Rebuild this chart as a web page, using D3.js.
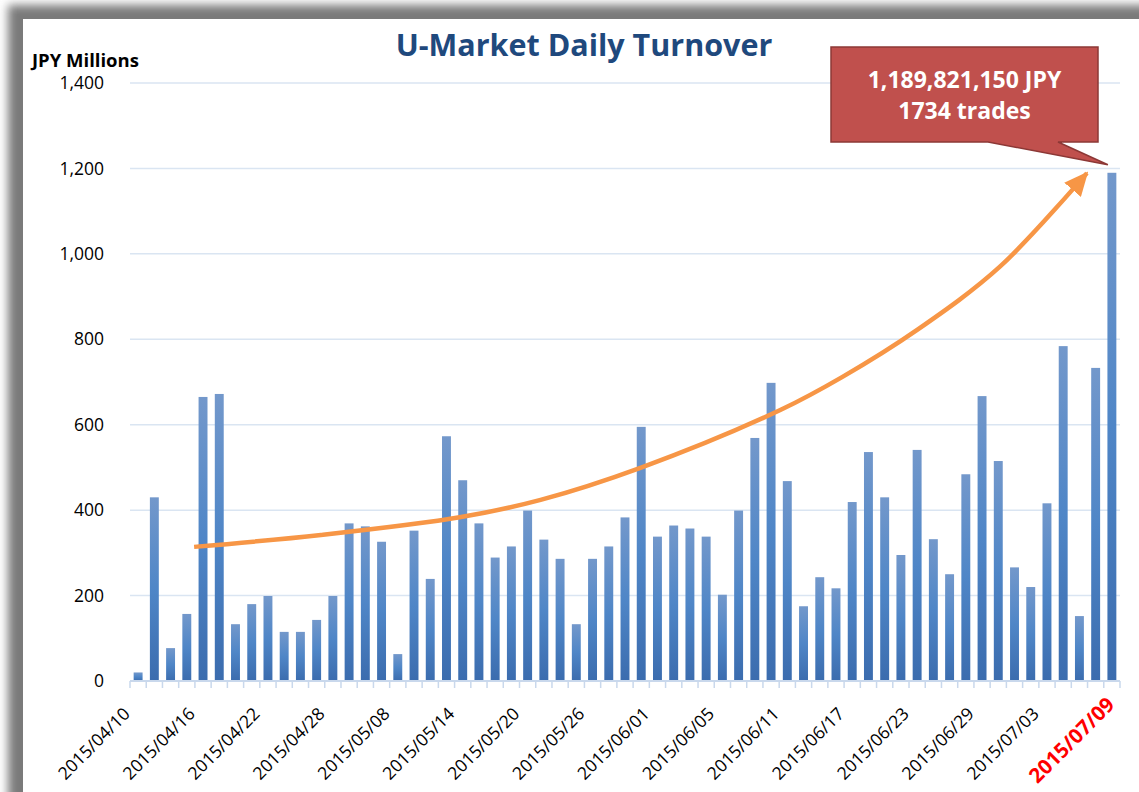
<!DOCTYPE html>
<html><head><meta charset="utf-8">
<script src="https://cdn.jsdelivr.net/npm/d3@7/dist/d3.min.js"></script>
<style>html,body{margin:0;padding:0;background:#fff;}svg{display:block;}</style>
</head><body><svg id="c" width="1139" height="792"></svg>
<script>
const dates = ["2015/04/10","2015/04/13","2015/04/14","2015/04/15","2015/04/16","2015/04/17","2015/04/20","2015/04/21","2015/04/22","2015/04/23","2015/04/24","2015/04/27","2015/04/28","2015/04/30","2015/05/01","2015/05/07","2015/05/08","2015/05/11","2015/05/12","2015/05/13","2015/05/14","2015/05/15","2015/05/18","2015/05/19","2015/05/20","2015/05/21","2015/05/22","2015/05/25","2015/05/26","2015/05/27","2015/05/28","2015/05/29","2015/06/01","2015/06/02","2015/06/03","2015/06/04","2015/06/05","2015/06/08","2015/06/09","2015/06/10","2015/06/11","2015/06/12","2015/06/15","2015/06/16","2015/06/17","2015/06/18","2015/06/19","2015/06/22","2015/06/23","2015/06/24","2015/06/25","2015/06/26","2015/06/29","2015/06/30","2015/07/01","2015/07/02","2015/07/03","2015/07/06","2015/07/07","2015/07/08","2015/07/09"];
const turnover = [20,430,77,157,665,672,133,180,199,115,115,143,199,369,362,326,63,352,239,573,470,369,289,315,399,331,286,133,286,315,383,595,338,364,357,338,202,399,569,698,468,175,243,217,419,536,430,295,541,332,250,484,667,515,266,220,416,784,152,733,1189.82];
const yTicks = [0,200,400,600,800,1000,1200,1400];
const labelEvery = 4;
const highlightDate = "2015/07/09";
// trend arrow (annotation) in data space: [bar index, value]
const trendIdx = [3.45, 11.26, 19.9, 24.8, 30.95, 39.6, 43.4, 48.0, 53.1, 58.46];
const trendVal = [314, 342, 384, 424, 499, 635, 712, 822, 970, 1189];
const title = "U-Market Daily Turnover";
const yTitle = "JPY Millions";
const calloutLines = ["1,189,821,150 JPY", "1734 trades"];

const svg = d3.select("#c");
const m = {left:130, right:1120, top:83, bottom:681};

const defs = svg.append("defs");
const f = defs.append("filter").attr("id","sh").attr("x","-5%").attr("y","-5%").attr("width","110%").attr("height","110%");
f.append("feGaussianBlur").attr("stdDeviation",5);
const g = defs.append("linearGradient").attr("id","bg").attr("x1",0).attr("y1",0).attr("x2",0).attr("y2",1);
g.append("stop").attr("offset","0%").attr("stop-color","#7398cb");
g.append("stop").attr("offset","50%").attr("stop-color","#4f86c7");
g.append("stop").attr("offset","100%").attr("stop-color","#3b6cae");
defs.append("marker").attr("id","ah").attr("markerUnits","userSpaceOnUse")
  .attr("viewBox","0 -11 24 22").attr("refX",22).attr("refY",0)
  .attr("markerWidth",24).attr("markerHeight",22).attr("orient","auto")
  .append("path").attr("d","M0,-11L24,0L0,11Z").attr("fill","#f79646");

// frame shadow
svg.append("rect").attr("x",8).attr("y",5).attr("width",1300).attr("height",1000).attr("fill","#7a7a7a").attr("filter","url(#sh)");
svg.append("rect").attr("x",23).attr("y",19).attr("width",1200).attr("height",900).attr("fill","#fff");

const x = d3.scaleBand().domain(dates).range([m.left, m.right]).paddingInner(0.45).paddingOuter(0.225);
const y = d3.scaleLinear().domain([0,1400]).range([m.bottom, m.top]);
const bw = x.bandwidth();
const xi = d3.scaleLinear().domain([0, dates.length-1]).range([x(dates[0])+bw/2, x(dates[dates.length-1])+bw/2]);

// gridlines
svg.append("g").selectAll("line").data(yTicks.filter(d=>d>0)).join("line")
  .attr("x1",m.left).attr("x2",m.right).attr("y1",d=>y(d)).attr("y2",d=>y(d))
  .attr("stroke","#dae5f2").attr("stroke-width",1.5);

// y labels
svg.append("g").selectAll("text").data(yTicks).join("text")
  .attr("x",104).attr("y",d=>y(d)).attr("dy","0.35em").attr("text-anchor","end")
  .attr("font-family","Open Sans").attr("font-size",17.5).attr("fill","#000")
  .text(d=>d3.format(",")(d));

svg.append("text").attr("x",32).attr("y",66.5).attr("font-family","Open Sans").attr("font-weight","bold")
  .attr("font-size",18.5).attr("fill","#000").text(yTitle);

// bars
svg.append("g").selectAll("rect").data(dates).join("rect")
  .attr("x",d=>x(d)).attr("width",bw)
  .attr("y",(d,i)=>y(turnover[i])).attr("height",(d,i)=>y(0)-y(turnover[i]))
  .attr("fill","url(#bg)");

// x axis
const step = x.step();
svg.append("line").attr("x1",m.left).attr("x2",m.right).attr("y1",y(0)).attr("y2",y(0)).attr("stroke","#c9d8ec").attr("stroke-width",2);
const bounds = dates.map(d=>x(d)-(step-bw)/2).concat([m.right]);
svg.append("g").selectAll("line").data(bounds).join("line")
  .attr("x1",d=>d).attr("x2",d=>d).attr("y1",y(0)).attr("y2",y(0)+7)
  .attr("stroke","#c9d8ec").attr("stroke-width",1.5);

svg.append("g").selectAll("text").data(dates.filter((d,i)=>i%labelEvery===0)).join("text")
  .attr("transform",d=>{
    const cx = x(d)+bw/2;
    return d===highlightDate ? `translate(${cx+4},${y(0)+25}) rotate(-45)` : `translate(${cx-7},${y(0)+34}) rotate(-45)`;
  })
  .attr("text-anchor","end")
  .attr("font-family","Open Sans")
  .attr("font-size",d=>d===highlightDate?20.5:17.5)
  .attr("font-weight",d=>d===highlightDate?"bold":"normal")
  .attr("fill",d=>d===highlightDate?"#ff0000":"#000")
  .text(d=>d);

// trend arrow
const line = d3.line().x(d=>xi(d[0])).y(d=>y(d[1])).curve(d3.curveCatmullRom.alpha(0.5));
svg.append("path").attr("d",line(trendIdx.map((v,i)=>[v,trendVal[i]])))
  .attr("fill","none").attr("stroke","#f79646").attr("stroke-width",4.5).attr("marker-end","url(#ah)");

// title
svg.append("text").attr("x",584).attr("y",56).attr("text-anchor","middle")
  .attr("font-family","Open Sans").attr("font-weight","bold").attr("font-size",30.5)
  .attr("fill","#1f497d").text(title);

// callout
const last = dates.length-1;
const tipX = x(dates[last])+bw/2-4, tipY = y(turnover[last])-8;
const cb = {x0:831, x1:1098, y0:47, y1:142};
svg.append("path")
  .attr("d",`M${cb.x0},${cb.y0}H${cb.x1}V${cb.y1}H1058L${tipX},${tipY}L988,${cb.y1}H${cb.x0}Z`)
  .attr("fill","#c0504d").attr("stroke","#8c3836").attr("stroke-width",1.5);
svg.append("g").selectAll("text").data(calloutLines).join("text")
  .attr("x",(cb.x0+cb.x1)/2).attr("y",(d,i)=>88+i*31).attr("text-anchor","middle")
  .attr("font-family","Open Sans").attr("font-weight","bold").attr("font-size",23)
  .attr("fill","#fff").text(d=>d);
</script></body></html>
